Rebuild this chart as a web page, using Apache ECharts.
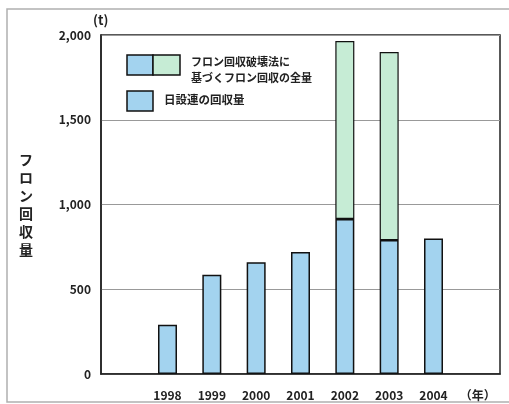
<!DOCTYPE html>
<html>
<head>
<meta charset="utf-8">
<script src="https://cdn.jsdelivr.net/npm/echarts@6/dist/echarts.min.js"></script>
<style>html,body{margin:0;padding:0;background:#fff;}#c{width:509px;height:404px;}</style>
</head>
<body>
<div id="c"></div>
<script>
// Data
const categories = ['', '1998', '1999', '2000', '2001', '2002', '2003', '2004', '（年）'];
const nissetsurenValues = [null, 290, 585, 660, 720, 915, 790, 800, null];
const lawExtraValues = [null, null, null, null, null, 1050, 1110, null, null];
const yTicks = [0, 500, 1000, 1500, 2000];
const yAxisTitle = 'フロン回収量';
const unitLabel = '(t)';
const legendLawText = 'フロン回収破壊法に\n基づくフロン回収の全量';
const legendNissetsurenText = '日設連の回収量';

const FONT = '"Noto Sans CJK JP", "Noto Sans", sans-serif';
const BLUE = '#a3d3ef';
const GREEN = '#c6ecd5';

const chart = echarts.init(document.getElementById('c'), null, {renderer: 'canvas'});
chart.setOption({
  backgroundColor: '#fff',
  animation: false,
  grid: {left: 101, right: 9, top: 35, bottom: 30, show: true, borderColor: '#222', borderWidth: 1.5, backgroundColor: 'transparent'},
  xAxis: {
    type: 'category',
    data: categories,
    axisLine: {lineStyle: {color: '#222', width: 1.5}},
    axisTick: {show: false},
    axisLabel: {color: '#222', fontFamily: FONT, fontWeight: 'bold', fontSize: 12, margin: 15, interval: 0}
  },
  yAxis: {
    type: 'value',
    min: yTicks[0],
    max: yTicks[yTicks.length - 1],
    interval: yTicks[1] - yTicks[0],
    name: yAxisTitle.split('').join('\n'),
    nameLocation: 'middle',
    nameRotate: 0,
    nameGap: 68,
    nameTextStyle: {color: '#222', fontFamily: FONT, fontWeight: 'bold', fontSize: 14, lineHeight: 18},
    axisLine: {show: true, lineStyle: {color: '#222', width: 1.5}},
    axisTick: {show: false},
    splitLine: {lineStyle: {color: '#999', width: 1}},
    axisLabel: {
      color: '#222', fontFamily: FONT, fontWeight: 'bold', fontSize: 12, margin: 10,
      formatter: v => v.toLocaleString('en-US')
    }
  },
  series: [
    {
      name: legendNissetsurenText,
      type: 'bar',
      stack: 'total',
      barWidth: 19,
      data: nissetsurenValues,
      itemStyle: {color: BLUE, borderColor: '#111', borderWidth: 1.5}
    },
    {
      name: 'フロン回収破壊法に基づくフロン回収の全量',
      type: 'bar',
      stack: 'total',
      barWidth: 19,
      data: lawExtraValues,
      itemStyle: {color: GREEN, borderColor: '#111', borderWidth: 1.2}
    }
  ],
  graphic: [
    {type: 'rect', shape: {x: 7, y: 9, width: 520, height: 393}, style: {fill: 'none', stroke: '#b0b0b0', lineWidth: 1.5}, z: -1},
    {type: 'text', x: 93, y: 14, style: {text: unitLabel, font: 'bold 13px ' + FONT, fill: '#222'}},
    {type: 'rect', shape: {x: 127, y: 55, width: 26, height: 20}, style: {fill: BLUE, stroke: '#111', lineWidth: 1.5}},
    {type: 'rect', shape: {x: 153, y: 55, width: 27, height: 20}, style: {fill: GREEN, stroke: '#111', lineWidth: 1.5}},
    {type: 'text', x: 191, y: 54, style: {text: legendLawText, font: 'bold 11px ' + FONT, fill: '#222', lineHeight: 16}},
    {type: 'rect', shape: {x: 127, y: 91, width: 26, height: 20}, style: {fill: BLUE, stroke: '#111', lineWidth: 1.5}},
    {type: 'text', x: 164, y: 94, style: {text: legendNissetsurenText, font: 'bold 11.5px ' + FONT, fill: '#222'}}
  ]
});
</script>
</body>
</html>
